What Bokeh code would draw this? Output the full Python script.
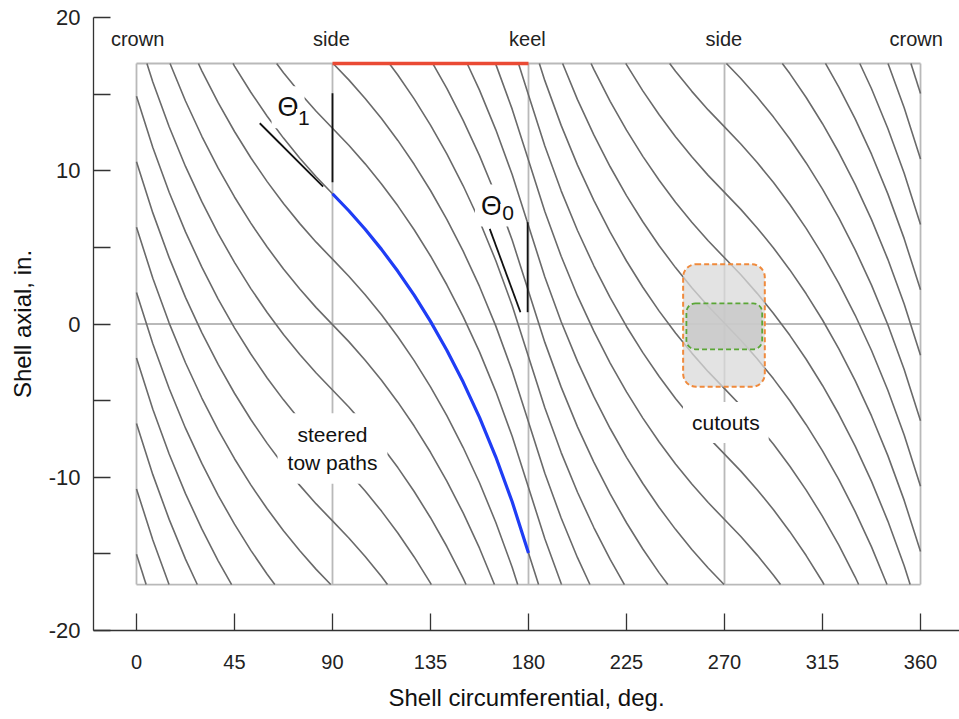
import numpy as np
from bokeh.plotting import figure
from bokeh.models import Label, BoxAnnotation, FixedTicker, Range1d
from bokeh.core.properties import value
from bokeh.embed import file_html
from bokeh.resources import INLINE

# ---- data ----
# tow path profile: offset from the side crossing (deg) -> axial drop (in.)
tow_t = [0, 7.5, 15, 22.5, 30, 37.5, 45, 52.5, 60, 67.5, 75, 82.5, 90]
tow_dy = [0, -1.11, -2.32, -3.63, -5.06, -6.62, -8.33, -10.21, -12.29, -14.59, -17.18, -20.10, -23.44]
side_crossing = 8.5        # axial position where highlighted path crosses side (90 deg)
tow_spacing = 4.27         # axial spacing between neighbouring tow paths
tow_index = list(range(-11, 19))

shell_x = [0, 360]
shell_y = [-17, 17]
guide_x = [90, 180, 270]
guide_y = [0]

top_label_text = ["crown", "side", "keel", "side", "crown"]
top_label_x = [0.5, 89.5, 179.5, 269.7, 358]
top_label_y = [18.6, 18.6, 18.6, 18.6, 18.6]

keel_span_x = [90, 180]
keel_span_y = [17, 17]

theta1_slant_x = [56.6, 85.7]
theta1_slant_y = [13.1, 8.97]
theta1_vert_x = [90, 90]
theta1_vert_y = [9.25, 15.06]
theta0_slant_x = [162.2, 176.3]
theta0_slant_y = [6.21, 0.77]
theta0_vert_x = [179.6, 179.6]
theta0_vert_y = [0.77, 6.64]

outer_cut = dict(left=251.0, right=288.5, bottom=-4.1, top=3.9)
inner_cut = dict(left=252.5, right=287.3, bottom=-1.65, top=1.35)

x_ticks = [0, 45, 90, 135, 180, 225, 270, 315, 360]
y_ticks = [-20, -15, -10, -5, 0, 5, 10, 15, 20]
y_tick_labels = {-20: "-20", -15: "", -10: "-10", -5: "", 0: "0", 5: "", 10: "10", 15: "", 20: "20"}

FONT = "Liberation Sans"

# ---- build path geometry ----
t = np.array(tow_t, dtype=float)
d = np.array(tow_dy, dtype=float)
# one period (crown -> side -> keel), point-symmetric about the side crossing
xp = np.concatenate([90 - t[::-1], 90 + t[1:]])
yp = np.concatenate([-d[::-1], d[1:]])
drop = yp[0] - yp[-1]
# second period (keel -> side -> crown)
xf = np.concatenate([xp, xp[1:] + 180])
yf = np.concatenate([yp, yp[1:] - drop])

lo, hi = shell_y


def clip(xs, ys):
    m = (ys >= lo) & (ys <= hi)
    if not m.any():
        return None
    cx = list(xs[m])
    cy = list(ys[m])
    xr, yr = xs[::-1], ys[::-1]
    if ys[0] > hi:
        cx.insert(0, float(np.interp(hi, yr, xr)))
        cy.insert(0, hi)
    if ys[-1] < lo:
        cx.append(float(np.interp(lo, yr, xr)))
        cy.append(lo)
    return cx, cy


curves_x, curves_y = [], []
for k in tow_index:
    c = side_crossing + k * tow_spacing
    r = clip(xf, yf + c)
    if r is not None:
        curves_x.append(r[0])
        curves_y.append(r[1])

blue_x = list(90 + t)
blue_y = list(side_crossing + d)

# ---- figure ----
p = figure(width=959, height=719, x_range=Range1d(-19.74, 377.9), y_range=Range1d(-20, 20),
           output_backend="svg", toolbar_location=None,
           min_border_left=93, min_border_right=0, min_border_top=17, min_border_bottom=89)
p.xgrid.visible = False
p.ygrid.visible = False
p.outline_line_color = None
p.background_fill_color = "white"
p.border_fill_color = "white"

# shell outline & guides
fx = [[shell_x[0], shell_x[1]] for _ in range(2)] + [[gx, gx] for gx in guide_x] + \
     [[shell_x[0], shell_x[0]], [shell_x[1], shell_x[1]]] + [[shell_x[0], shell_x[1]] for _ in guide_y]
fy = [[shell_y[0], shell_y[0]], [shell_y[1], shell_y[1]]] + [[shell_y[0], shell_y[1]] for _ in guide_x] + \
     [[shell_y[0], shell_y[1]], [shell_y[0], shell_y[1]]] + [[gy, gy] for gy in guide_y]
p.multi_line(fx, fy, line_color="#b9b9b9", line_width=1.8)

# tow paths
p.multi_line(curves_x, curves_y, line_color="#6a6a6a", line_width=1.6)

# highlighted path and keel span
p.line(blue_x, blue_y, line_color="#1f3df5", line_width=3.2)
p.line(keel_span_x, keel_span_y, line_color="#ea4a34", line_width=3.6)

# angle markers
for xs, ys in [(theta1_slant_x, theta1_slant_y), (theta1_vert_x, theta1_vert_y),
               (theta0_slant_x, theta0_slant_y), (theta0_vert_x, theta0_vert_y)]:
    p.line(xs, ys, line_color="#111111", line_width=1.8)

# cutouts
p.add_layout(BoxAnnotation(**outer_cut, fill_color="#dadada", fill_alpha=0.75,
                           line_color="#f08a3c", line_alpha=1.0, line_width=2,
                           line_dash="5 3", border_radius=13))
p.add_layout(BoxAnnotation(**inner_cut, fill_color="#c6c6c6", fill_alpha=0.75,
                           line_color="#5aa636", line_alpha=1.0, line_width=1.8,
                           line_dash="5 3", border_radius=9))

# top labels
p.text(top_label_x, top_label_y, text=top_label_text, text_font=value(FONT),
       text_font_size="20px", text_align="center", text_baseline="middle", text_color="#222222")

# annotations with white background
def lab(x, y, txt, size, pad=4):
    p.add_layout(Label(x=x, y=y, text=txt, text_font=FONT, text_font_size=size,
                       text_align="center", text_baseline="middle", text_color="#111111",
                       background_fill_color="white", padding=pad))

lab(69.6, 14.14, "Θ", "27px", 6)
lab(76.8, 13.45, "1", "21px", 2)
lab(163.0, 7.73, "Θ", "27px", 6)
lab(170.6, 7.25, "0", "21px", 2)
lab(90, -8.12, "steered\ntow paths", "21px", 10)
lab(270.6, -6.43, "cutouts", "21px", 9)

# axes
for ax in (p.xaxis[0], p.yaxis[0]):
    ax.axis_line_color = "#333333"
    ax.axis_line_width = 1.3
    ax.major_tick_line_color = "#333333"
    ax.major_tick_line_width = 1.3
    ax.major_tick_in = 17
    ax.major_tick_out = 0
    ax.minor_tick_line_color = None
    ax.major_label_text_font = FONT
    ax.axis_label_text_font = FONT
    ax.axis_label_text_font_style = "normal"
    ax.axis_label_text_font_size = "24px"
    ax.major_label_text_color = "#222222"
    ax.axis_label_text_color = "#111111"

p.xaxis.ticker = FixedTicker(ticks=x_ticks)
p.xaxis.axis_label = "Shell circumferential, deg."
p.xaxis.major_label_text_font_size = "20px"
p.xaxis.major_label_standoff = 24
p.xaxis.axis_label_standoff = 12

p.yaxis.ticker = FixedTicker(ticks=y_ticks)
p.yaxis.major_label_overrides = {k: v for k, v in y_tick_labels.items()}
p.yaxis.axis_label = "Shell axial, in."
p.yaxis.major_label_text_font_size = "22px"
p.yaxis.major_label_standoff = 13
p.yaxis.axis_label_standoff = 10

open("out.html", "w").write(file_html(p, INLINE))
